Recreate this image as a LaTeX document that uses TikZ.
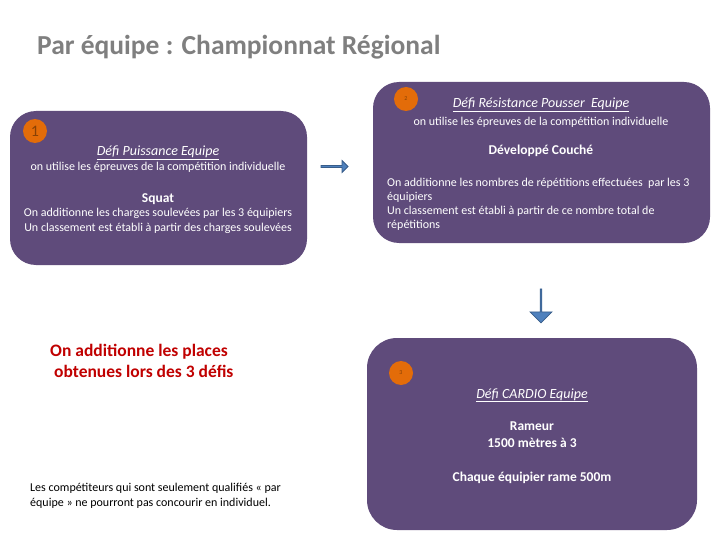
\documentclass[tikz,border=0pt]{standalone}
\usepackage{fontspec}
\setmainfont{Carlito}
\usetikzlibrary{shapes.arrows}
\definecolor{boxpurple}{HTML}{5F4B7B}
\definecolor{numorange}{HTML}{E36C09}
\definecolor{arrowblue}{HTML}{4F81BD}
\definecolor{arrowedge}{HTML}{385D8A}
\definecolor{titlegray}{HTML}{7F7F7F}
\definecolor{redtext}{HTML}{C00000}
\tikzset{
  x=1pt, y=-1pt,
  purplebox/.style={fill=boxpurple, draw=none, rounded corners=26pt},
  numdot/.style={circle, fill=numorange, minimum size=24pt, inner sep=0pt, text=numorange!60!black, font=\fontsize{6}{6}\selectfont},
  wtext/.style={text=white, inner sep=0pt, anchor=base, font=\fontsize{12}{14.3}\selectfont},
  witalic/.style={text=white, inner sep=0pt, anchor=base, font=\fontsize{14}{16}\selectfont\itshape},
  wbold/.style={text=white, inner sep=0pt, anchor=base, font=\fontsize{13.5}{17}\selectfont\bfseries},
  blockarrow/.style={single arrow, fill=arrowblue, draw=arrowedge, line width=0.8pt, inner sep=0pt},
}
\begin{document}
\begin{tikzpicture}
\useasboundingbox (0,0) rectangle (720,540);
% title
\node[anchor=base west, text=titlegray, font=\fontsize{27.5}{32}\selectfont\bfseries, inner sep=0pt] (title) at (37,55) {Par équipe : Championnat Régional};

% box 1
\node[purplebox, minimum width=297pt, minimum height=154pt, inner sep=0pt] (b1) at (158.5,188) {};
\node[numdot] (n1) at (35,131) {\fontsize{16}{16}\selectfont 1};
\node[witalic] (t1a) at (158,156) {\underline{Défi Puissance Equipe}};
\node[wtext] (t1b) at (158,171) {on utilise les épreuves de la compétition individuelle};
\node[wbold] (t1c) at (158,203) {Squat};
\node[wtext, align=center] (t1d) at (158,231) {On additionne les charges soulevées par les 3 équipiers\\Un classement est établi à partir des charges soulevées};

% right arrow
\node[blockarrow, minimum height=27pt, minimum width=12pt, single arrow head extend=2pt] (ar) at (334,166.5) {};

% box 2
\node[purplebox, minimum width=337pt, minimum height=161pt, inner sep=0pt] (b2) at (541.5,162.5) {};
\node[numdot] (n2) at (406,99) {2};
\node[witalic] (t2a) at (541,108) {\underline{Défi Résistance Pousser\ \ Equipe}};
\node[wtext] (t2b) at (541,126) {on utilise les épreuves de la compétition individuelle};
\node[wbold] (t2c) at (541,155) {Développé Couché};
\node[wtext, anchor=base west, align=left] (t2d) at (387,229) {On additionne les nombres de répétitions effectuées\ \ par les 3\\équipiers\\Un classement est établi à partir de ce nombre total de\\répétitions};

% down arrow
\node[blockarrow, minimum height=34pt, minimum width=22pt, single arrow head extend=5pt, shape border rotate=270] (ad) at (541,305.5) {};

% box 3
\node[purplebox, rounded corners=30pt, minimum width=330pt, minimum height=192pt, inner sep=0pt] (b3) at (532,434) {};
\node[numdot] (n3) at (401,373) {3};
\node[witalic] (t3a) at (532,398) {\underline{Défi CARDIO Equipe}};
\node[wbold, align=center] (t3b) at (532,447) {Rameur\\1500 mètres à 3};
\node[wbold] (t3c) at (532,481) {Chaque équipier rame 500m};

% red text
\node[anchor=base west, text=redtext, align=left, inner sep=0pt, font=\fontsize{17.5}{21}\selectfont\bfseries] (red) at (50,377) {On additionne les places\\\ obtenues lors des 3 défis};

% footnote
\node[anchor=base west, align=left, inner sep=0pt, font=\fontsize{12}{14.3}\selectfont] (foot) at (30,506) {Les compétiteurs qui sont seulement qualifiés « par\\équipe » ne pourront pas concourir en individuel.};
\end{tikzpicture}
\end{document}
